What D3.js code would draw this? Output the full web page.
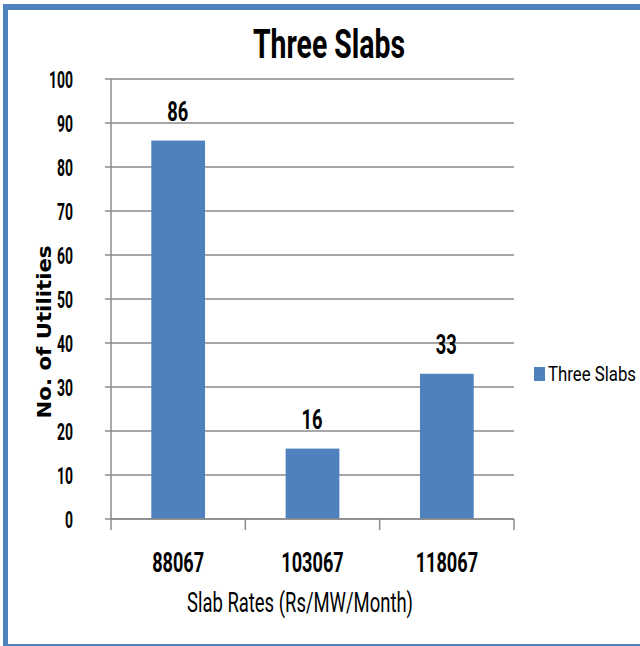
<!DOCTYPE html>
<html>
<head>
<meta charset="utf-8">
<script src="https://cdn.jsdelivr.net/npm/d3@7"></script>
<style>
	body { margin: 0; background: #fff; }
	svg { display: block; }
</style>
</head>
<body>
<svg></svg>
<script>
// chart data
var categories = ['88067', '103067', '118067'];
var values = [86, 16, 33];
var yTicks = [0, 10, 20, 30, 40, 50, 60, 70, 80, 90, 100];
var seriesName = 'Three Slabs';

var FONT = 'Roboto, "Liberation Sans", sans-serif';

// the original text is a narrow Calibri, so squeeze Roboto into a given width
function squeezed(parent, x, y, width, size, weight, anchor, txt) {
	return parent.append('text')
		.attr('x', x).attr('y', y)
		.attr('text-anchor', anchor)
		.attr('textLength', width)
		.attr('lengthAdjust', 'spacingAndGlyphs')
		.style('font-family', FONT)
		.style('font-weight', weight)
		.style('font-size', size + 'px')
		.text(txt);
}

function drawChart() {
	var svg = d3.select('svg')
		.attr('width', 640)
		.attr('height', 646);

	// blue frame (left, top, bottom)
	svg.append('rect').attr('x', 3).attr('y', 4).attr('width', 5).attr('height', 642).style('fill', '#4F81BD');
	svg.append('rect').attr('x', 3).attr('y', 4).attr('width', 637).attr('height', 6).style('fill', '#4F81BD');
	svg.append('rect').attr('x', 3).attr('y', 644).attr('width', 637).attr('height', 2).style('fill', '#4F81BD');

	var plot = { left: 111, right: 514, top: 79, bottom: 519 };

	var x = d3.scaleBand()
		.domain(categories)
		.range([plot.left, plot.right])
		.paddingInner(0.6)
		.paddingOuter(0.3);

	var y = d3.scaleLinear()
		.domain([0, 100])
		.range([plot.bottom, plot.top]);

	// gridlines
	svg.append('g')
		.selectAll('line')
		.data(yTicks)
		.enter()
		.append('line')
			.attr('x1', plot.left - 6).attr('x2', plot.right)
			.attr('y1', function(d) { return y(d); })
			.attr('y2', function(d) { return y(d); })
			.style('stroke', '#8a8a8a')
			.style('stroke-width', 1.5);

	// y axis labels
	var yl = svg.append('g');
	yTicks.forEach(function(d) {
		var s = String(d);
		squeezed(yl, 73, y(d) + 9, 8 * s.length, 23, 'bold', 'end', s);
	});

	// bars
	svg.append('g')
		.selectAll('rect')
		.data(values)
		.enter()
		.append('rect')
			.attr('x', function(d, i) { return x(categories[i]); })
			.attr('y', function(d) { return y(d); })
			.attr('width', x.bandwidth())
			.attr('height', function(d) { return y(0) - y(d); })
			.style('fill', '#4F81BD');

	// value labels
	var vl = svg.append('g');
	values.forEach(function(d, i) {
		var s = String(d);
		squeezed(vl, x(categories[i]) + x.bandwidth() / 2 - 0.5, y(d) - 20, 10.5 * s.length, 28, 'bold', 'middle', s);
	});

	// axes lines
	svg.append('line')
		.attr('x1', plot.left).attr('x2', plot.left)
		.attr('y1', plot.top).attr('y2', plot.bottom)
		.style('stroke', '#8a8a8a').style('stroke-width', 1.5);
	svg.append('line')
		.attr('x1', plot.left).attr('x2', plot.right)
		.attr('y1', plot.bottom).attr('y2', plot.bottom)
		.style('stroke', '#8a8a8a').style('stroke-width', 1.5);

	// category ticks
	var step = (plot.right - plot.left) / categories.length;
	svg.append('g')
		.selectAll('line')
		.data(d3.range(categories.length + 1))
		.enter()
		.append('line')
			.attr('x1', function(d) { return plot.left + d * step; })
			.attr('x2', function(d) { return plot.left + d * step; })
			.attr('y1', plot.bottom).attr('y2', plot.bottom + 11)
			.style('stroke', '#8a8a8a').style('stroke-width', 1.5);

	// category labels
	var cl = svg.append('g');
	categories.forEach(function(d) {
		squeezed(cl, x(d) + x.bandwidth() / 2, 572, 10.4 * d.length, 28, 'bold', 'middle', d);
	});

	// title
	squeezed(svg, 329, 58, 152, 41, 'bold', 'middle', 'Three Slabs');

	// axis titles
	squeezed(svg, 300, 612, 226, 27, 'normal', 'middle', 'Slab Rates (Rs/MW/Month)');

	svg.append('text')
		.attr('transform', 'translate(51,332) rotate(-90)')
		.attr('text-anchor', 'middle')
		.attr('textLength', 173)
		.attr('lengthAdjust', 'spacingAndGlyphs')
		.style('font-family', '"DejaVu Sans", sans-serif')
		.style('font-weight', 'bold')
		.style('font-size', '19px')
		.text('No. of Utilities');

	// legend (scaled rather than textLength so it stays inside the page)
	svg.append('rect')
		.attr('x', 534).attr('y', 367)
		.attr('width', 11).attr('height', 14)
		.style('fill', '#4F81BD');
	svg.append('text')
		.attr('transform', 'translate(548,381) scale(0.8,1)')
		.style('font-family', FONT)
		.style('font-size', '21px')
		.text(seriesName);
}

drawChart();
</script>
</body>
</html>
